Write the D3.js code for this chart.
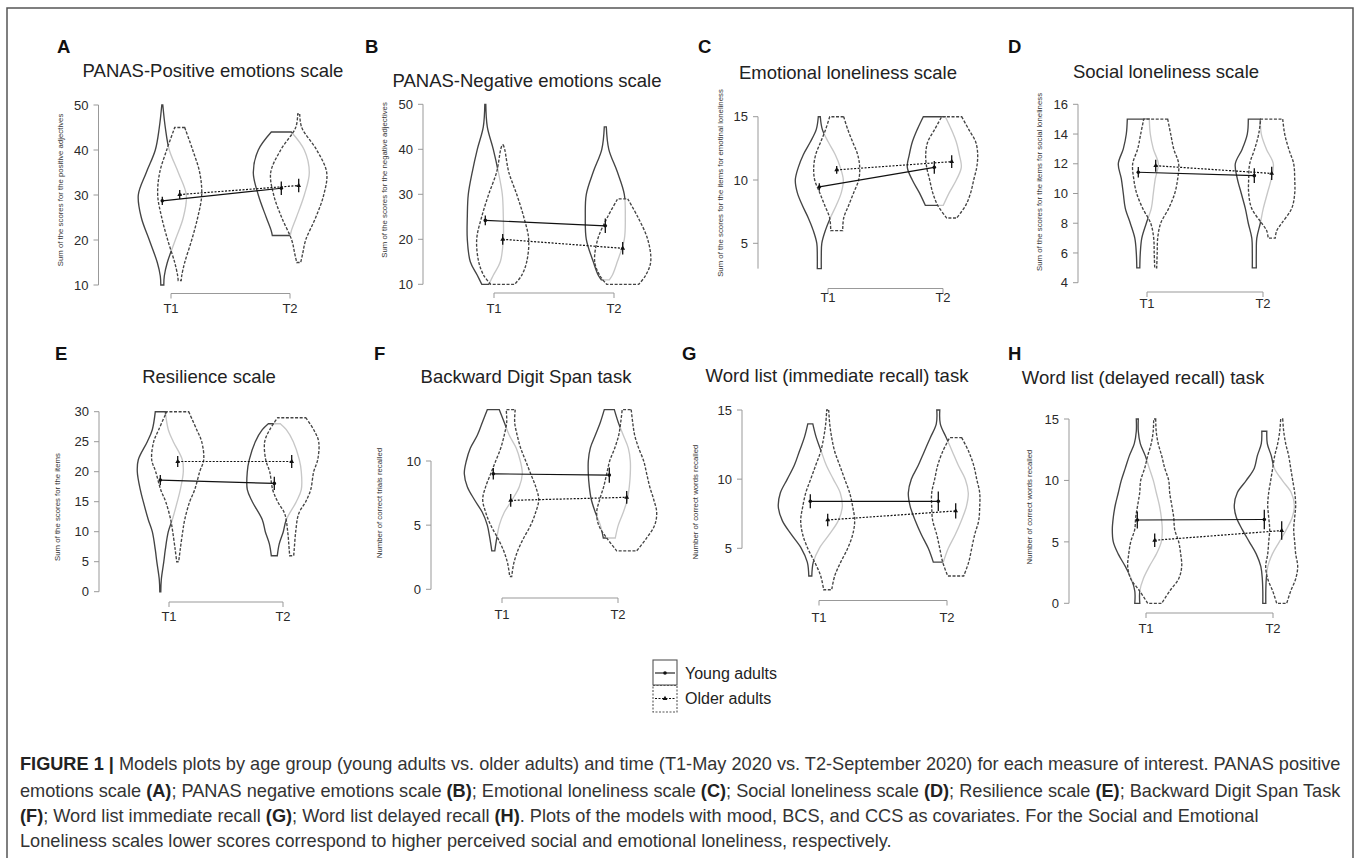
<!DOCTYPE html>
<meta charset="utf-8">
<title>Model plots by age group and time</title>
<style>

body {
  margin: 0;
  background: #fff;
}

svg {
  font-family: "Liberation Sans", Arial, sans-serif;
}

.frame {
  fill: none;
  stroke: #555;
  stroke-width: 1.5px;
}

.axis-line {
  stroke: #999;
  stroke-width: 1px;
  fill: none;
}

.tick-label {
  font-size: 13px;
  fill: #2a2a2a;
}

.y-label {
  font-size: 7.8px;
  fill: #333;
  text-anchor: middle;
}

.title {
  font-size: 18.5px;
  fill: #222;
  text-anchor: middle;
}

.letter {
  font-size: 18.5px;
  font-weight: bold;
  fill: #111;
}

.violin {
  fill: #fff;
  fill-opacity: 0.7;
  stroke: #444;
  stroke-width: 1.35px;
}

.violin.older {
  stroke-dasharray: 3, 1.6;
}

.mean-line {
  stroke: #111;
  stroke-width: 1.2px;
  fill: none;
}

.mean-line.older {
  stroke-dasharray: 2, 1.5;
}

.err {
  stroke: #111;
  stroke-width: 1.3px;
}

.caption {
  fill: #333;
}

</style>
<svg width="1358" height="858"></svg>
<script src="https://cdn.jsdelivr.net/npm/d3@7"></script>
<script>

var letters = ["A", "B", "C", "D", "E", "F", "G", "H"];

var titles = [
  "PANAS-Positive emotions scale",
  "PANAS-Negative emotions scale",
  "Emotional loneliness scale",
  "Social loneliness scale",
  "Resilience scale",
  "Backward Digit Span task",
  "Word list (immediate recall) task",
  "Word list (delayed recall) task"
];

var yLabels = [
  "Sum of the scores for the positive adjectives",
  "Sum of the scores for the negative adjectives",
  "Sum of the scores for the items for emotinal loneliness",
  "Sum of the scores for the items for social loneliness",
  "Sum of the scores for the items",
  "Number of correct trials recalled",
  "Number of correct words recalled",
  "Number of correct words recalled"
];

var yTicks = [
  [10, 20, 30, 40, 50],
  [10, 20, 30, 40, 50],
  [5, 10, 15],
  [4, 6, 8, 10, 12, 14, 16],
  [0, 5, 10, 15, 20, 25, 30],
  [0, 5, 10],
  [5, 10, 15],
  [0, 5, 10, 15]
];

// extent of the drawn y axis line
var axisSpan = [[10, 50], [10, 50], [3, 15], [4, 16], [0, 30], [0, 10], [5, 15], [0, 15]];

var times = ["T1", "T2"];
var groups = ["Young adults", "Older adults"];

// model means [T1, T2] and half-width of the error bars
var youngMeans = [[28.7, 31.5], [24.2, 23.0], [9.45, 11.0], [11.43, 11.2], [18.6, 18.05], [9.0, 8.9], [8.4, 8.4], [6.78, 6.82]];
var olderMeans = [[30.1, 32.1], [20.0, 18.0], [10.8, 11.45], [11.87, 11.35], [21.7, 21.7], [6.93, 7.17], [7.05, 7.7], [5.13, 5.92]];
var youngErr = [[0.9, 1.5], [1.1, 1.6], [0.3, 0.5], [0.35, 0.5], [0.85, 1.1], [0.45, 0.6], [0.5, 0.7], [0.7, 0.8]];
var olderErr = [[1.0, 1.5], [1.2, 1.4], [0.3, 0.5], [0.4, 0.45], [0.9, 1.1], [0.5, 0.5], [0.45, 0.55], [0.55, 0.75]];

// violin densities [score, relative density], order: young T1, older T1, young T2, older T2
var densA = [
  [[50, 0.5], [45, 3], [40, 7], [35, 16], [30, 24], [25, 21], [20, 13], [15, 5], [12, 2], [10, 1.5]],
  [[45, 5], [40, 13], [35, 20], [30, 22], [25, 18], [20, 12], [15, 5], [12, 2], [11, 1.5]],
  [[44, 10], [40, 23], [35, 28], [30, 23], [25, 15], [22, 10], [21, 9]],
  [[48, 1], [45, 3], [40, 18], [35, 28], [30, 25], [25, 17], [20, 7], [17, 4], [15, 2]]
];
var densB = [
  [[50, 0.5], [45, 2], [40, 8], [35, 13], [30, 17], [25, 18], [20, 18], [15, 15], [12, 8], [10, 3.5]],
  [[41, 0.5], [40, 2], [35, 6], [30, 14], [25, 21], [20, 26], [15, 24], [12, 19], [10, 12]],
  [[45, 1], [40, 3.5], [35, 12], [30, 19], [25, 20], [20, 19], [15, 12], [12, 7], [11, 4]],
  [[29, 5], [25, 15], [20, 25], [15, 28], [12, 23], [10, 16]]
];
var densC = [
  [[15, 1], [14, 3], [13, 9], [12, 16], [11, 21], [10, 24], [9, 22], [8, 17], [7, 11], [6, 6], [5, 2.5], [4, 2], [3, 2]],
  [[15, 7], [14, 11], [13, 16], [12, 21], [11, 23], [10, 22], [9, 17], [8, 12], [7, 7], [6, 6]],
  [[15, 11], [14, 17], [13, 22], [12, 25], [11, 27], [10, 22], [9, 15], [8, 9]],
  [[15, 10], [14, 17], [13, 24], [12, 26], [11, 25], [10, 22], [9, 19], [8, 14], [7, 5]]
];
var densD = [
  [[15, 11], [14, 12], [13, 15], [12, 20], [11, 17], [10, 15], [9, 13], [8, 8], [7, 3.5], [6, 2], [5, 1.5]],
  [[15, 12], [14, 15], [13, 18], [12, 23], [11, 22], [10, 19], [9, 13], [8, 5], [7, 2], [6, 1.5], [5, 1]],
  [[15, 6], [14, 7], [13, 12], [12, 19], [11, 17], [10, 13], [9, 9], [8, 6], [7, 2.5], [6, 2], [5, 2]],
  [[15, 11], [14, 13], [13, 17], [12, 22], [11, 23], [10, 23], [9, 20], [8, 10], [7.5, 5], [7, 3.5]]
];
var densE = [
  [[30, 5], [27, 8], [25, 13], [22, 22], [20, 23], [17, 20], [15, 17], [12, 12], [10, 8], [7, 5], [5, 3.5], [2, 1], [0, 0.5]],
  [[30, 11], [27, 19], [25, 24], [22, 26], [20, 22], [17, 17], [15, 12], [12, 7], [10, 5], [7, 2.5], [5, 1]],
  [[28, 6], [27, 12], [25, 19], [22, 25], [20, 27], [17, 27], [15, 22], [12, 12], [10, 9], [8, 5], [6, 3]],
  [[29, 14], [27, 22], [25, 27], [22, 26], [20, 22], [17, 19], [15, 14], [13, 7], [10, 4], [7, 2.5], [6, 2]]
];
var densF = [
  [[14, 6], [13, 11], [12, 16], [11, 23], [10, 27], [9, 29], [8, 26], [7, 19], [6, 11], [5, 6], [4, 3.5], [3, 1.5]],
  [[14, 4.5], [13, 4], [12, 6.5], [11, 10], [10, 15], [9, 20], [8, 25], [7, 28], [6, 25], [5, 20], [4, 13], [3, 7], [2, 3], [1, 1]],
  [[14, 5], [13, 9], [12, 14], [11, 19], [10, 21], [9, 21], [8, 20], [7, 18], [6, 14], [5, 9], [4, 6]],
  [[14, 4.5], [13, 6], [12, 8], [11, 12], [10, 17], [9, 20], [8, 23], [7, 27], [6, 30], [5, 28], [4, 20], [3, 10]]
];
var densG = [
  [[14, 2.5], [13, 6], [12, 11], [11, 16], [10, 23], [9, 30], [8, 32], [7, 28], [6, 19], [5, 9], [4, 3], [3, 1.5]],
  [[15, 1], [14, 2], [13, 4], [12, 7], [11, 12], [10, 17], [9, 22], [8, 25], [7, 27], [6, 25], [5, 20], [4, 13], [3, 7], [2, 4]],
  [[15, 1.5], [14, 2], [13, 8], [12, 14], [11, 20], [10, 27], [9, 30], [8, 28], [7, 23], [6, 17], [5, 10], [4, 5]],
  [[13, 6], [12, 13], [11, 18], [10, 21], [9, 24], [8, 24], [7, 23], [6, 19], [5, 16], [4, 13], [3, 8]]
];
var densH = [
  [[15, 1], [14, 1], [13, 3], [12, 8], [11, 12], [10, 16], [9, 19], [8, 22], [7, 24], [6, 25], [5, 24], [4, 19], [3, 12], [2, 6], [1, 2.5], [0, 2.5]],
  [[15, 1], [14, 1.5], [13, 3.5], [12, 7], [11, 10], [10, 14], [9, 15], [8, 17], [7, 19], [6, 20], [5, 24], [4, 26], [3, 27], [2, 24], [1, 15], [0, 7]],
  [[14, 2.5], [13, 3], [12, 7], [11, 10], [10, 18], [9, 27], [8, 30], [7, 28], [6, 22], [5, 15], [4, 8], [3, 3.5], [2, 2], [1, 1.5], [0, 1.5]],
  [[15, 1], [14, 2], [13, 4], [12, 7], [11, 9], [10, 11], [9, 13], [8, 14], [7, 13], [6, 12], [5, 13], [4, 14], [3, 16], [2, 14], [1, 9], [0, 5]]
];
var densities = [densA, densB, densC, densD, densE, densF, densG, densH];

var captionLines = [
  "**FIGURE 1 |** Models plots by age group (young adults vs. older adults) and time (T1-May 2020 vs. T2-September 2020) for each measure of interest. PANAS positive",
  "emotions scale **(A)**; PANAS negative emotions scale **(B)**; Emotional loneliness scale **(C)**; Social loneliness scale **(D)**; Resilience scale **(E)**; Backward Digit Span Task",
  "**(F)**; Word list immediate recall **(G)**; Word list delayed recall **(H)**. Plots of the models with mood, BCS, and CCS as covariates. For the Social and Emotional",
  "Loneliness scales lower scores correspond to higher perceived social and emotional loneliness, respectively."
];

// panel placement on the page
var layout = [
  {ax: 98.5, yr: [285, 105], t: [171, 290], br: 293.5, tl: 308, title: [213, 77], letter: [57, 53], yl: [63, 190]},
  {ax: 423, yr: [284.3, 104.3], t: [494, 614], br: 293, tl: 308, title: [527, 87], letter: [365, 53], yl: [387, 180]},
  {ax: 758, yr: [243.3, 116.7], t: [828, 943], br: 288.5, tl: 297, title: [848, 79], letter: [698, 53], yl: [723, 183]},
  {ax: 1078, yr: [282.7, 104.3], t: [1147, 1263], br: 292, tl: 303, title: [1166, 78], letter: [1008, 53], yl: [1042, 182]},
  {ax: 99, yr: [591.7, 411.7], t: [169, 283], br: 602, tl: 616, title: [209, 383], letter: [55, 360], yl: [60, 507]},
  {ax: 431, yr: [589.3, 461], t: [502, 618], br: 598, tl: 614, title: [526, 383], letter: [374, 360], yl: [382, 503]},
  {ax: 742, yr: [548.3, 410], t: [819, 947], br: 600.5, tl: 617, title: [837, 382], letter: [682, 360], yl: [698, 502]},
  {ax: 1069, yr: [603.3, 419], t: [1146, 1273], br: 613, tl: 628, title: [1143, 384], letter: [1008, 360], yl: [1032, 507]}
];

var svg = d3.select("svg");

svg.append("rect")
    .attr("class", "frame")
    .attr("x", 7)
    .attr("y", 8)
    .attr("width", 1346)
    .attr("height", 880);

var w = d3.scaleLinear().domain([0, 30]).range([0, 30]),
    dodge = 8.7;

letters.forEach(function(letter, i) {
  var L = layout[i],
      ticks = yTicks[i];

  var y = d3.scaleLinear()
      .domain([ticks[0], ticks[ticks.length - 1]])
      .range(L.yr);

  var x = d3.scalePoint().domain(times).range(L.t);

  var g = svg.append("g");

  g.append("text")
      .attr("class", "letter")
      .attr("x", L.letter[0])
      .attr("y", L.letter[1])
      .text(letter);

  g.append("text")
      .attr("class", "title")
      .attr("x", L.title[0])
      .attr("y", L.title[1])
      .text(titles[i]);

  // y axis, R style
  g.append("line")
      .attr("class", "axis-line")
      .attr("x1", L.ax).attr("x2", L.ax)
      .attr("y1", y(axisSpan[i][0])).attr("y2", y(axisSpan[i][1]));

  var tick = g.selectAll(".ytick")
      .data(ticks)
    .enter().append("g")
      .attr("transform", function(d) { return "translate(" + L.ax + "," + y(d) + ")"; });

  tick.append("line")
      .attr("class", "axis-line")
      .attr("x2", -5);

  tick.append("text")
      .attr("class", "tick-label")
      .attr("x", -10)
      .attr("dy", ".36em")
      .attr("text-anchor", "end")
      .text(function(d) { return d; });

  g.append("text")
      .attr("class", "y-label")
      .attr("transform", "translate(" + L.yl[0] + "," + L.yl[1] + ") rotate(-90)")
      .text(yLabels[i]);

  // x axis bracket
  g.append("path")
      .attr("class", "axis-line")
      .attr("d", "M" + x("T1") + "," + (L.br + 5) + "V" + L.br + "H" + x("T2") + "V" + (L.br + 5));

  g.selectAll(".xlab")
      .data(times)
    .enter().append("text")
      .attr("class", "tick-label")
      .attr("x", function(d) { return x(d); })
      .attr("y", L.tl)
      .attr("dy", ".36em")
      .attr("text-anchor", "middle")
      .text(function(d) { return d; });

  // violins: young first, older drawn over it with translucent fill
  var dens = densities[i];
  var violins = [
    {group: 0, time: "T1", d: dens[0]},
    {group: 1, time: "T1", d: dens[1]},
    {group: 0, time: "T2", d: dens[2]},
    {group: 1, time: "T2", d: dens[3]}
  ];

  violins.forEach(function(v) {
    var cx = x(v.time) + (v.group === 0 ? -dodge : dodge);
    var area = d3.area()
        .curve(d3.curveCatmullRom)
        .y(function(d) { return y(d[0]); })
        .x0(function(d) { return cx - w(d[1]); })
        .x1(function(d) { return cx + w(d[1]); });
    g.append("path")
        .attr("class", "violin" + (v.group === 1 ? " older" : ""))
        .attr("d", area(v.d));
  });

  // model means with error bars
  [youngMeans[i], olderMeans[i]].forEach(function(m, gi) {
    var err = gi === 0 ? youngErr[i] : olderErr[i],
        off = gi === 0 ? -dodge : dodge;

    var pts = times.map(function(t, ti) { return [x(t) + off, y(m[ti]), err[ti], m[ti]]; });

    g.append("path")
        .attr("class", "mean-line" + (gi === 1 ? " older" : ""))
        .attr("d", d3.line()(pts.map(function(p) { return [p[0], p[1]]; })));

    pts.forEach(function(p) {
      g.append("line")
          .attr("class", "err")
          .attr("x1", p[0]).attr("x2", p[0])
          .attr("y1", y(p[3] - p[2])).attr("y2", y(p[3] + p[2]));
      if (gi === 0) {
        g.append("circle")
            .attr("cx", p[0]).attr("cy", p[1]).attr("r", 1.8)
            .attr("fill", "#111");
      } else {
        g.append("path")
            .attr("transform", "translate(" + p[0] + "," + p[1] + ")")
            .attr("d", d3.symbol(d3.symbolTriangle, 10)())
            .attr("fill", "#111");
      }
    });
  });
});

// legend
var legend = svg.append("g").attr("transform", "translate(653,660)");

groups.forEach(function(name, i) {
  var row = legend.append("g").attr("transform", "translate(0," + (i * 25.5) + ")");
  row.append("rect")
      .attr("width", 24)
      .attr("height", i === 0 ? 25 : 26.5)
      .attr("fill", "none")
      .attr("stroke", "#555")
      .attr("stroke-width", 1.1)
      .attr("stroke-dasharray", i === 0 ? null : "2,1.5");
  row.append("line")
      .attr("x1", 2).attr("x2", 22)
      .attr("y1", 13).attr("y2", 13)
      .attr("stroke", "#111")
      .attr("stroke-width", 1.1)
      .attr("stroke-dasharray", i === 0 ? null : "2,1.5");
  if (i === 0) {
    row.append("circle").attr("cx", 12).attr("cy", 13).attr("r", 1.8).attr("fill", "#111");
  } else {
    row.append("path")
        .attr("transform", "translate(12,13)")
        .attr("d", d3.symbol(d3.symbolTriangle, 10)())
        .attr("fill", "#111");
  }
  row.append("text")
      .attr("x", 32)
      .attr("y", 13)
      .attr("dy", ".36em")
      .attr("font-size", "16px")
      .attr("fill", "#222")
      .text(name);
});

// caption
var captionY = [770, 796.5, 821.5, 847];

var caption = svg.append("g").attr("class", "caption");

captionLines.forEach(function(line, i) {
  var text = caption.append("text")
      .attr("x", 20)
      .attr("y", captionY[i])
      .attr("font-size", "15.5px");
  line.split("**").forEach(function(part, j) {
    if (!part) return;
    text.append("tspan")
        .attr("font-weight", j % 2 ? "bold" : null)
        .attr("fill", j % 2 ? "#222" : null)
        .text(part);
  });
});

// fit the first caption line to the frame width
var first = caption.select("text").node(),
    len = first.getComputedTextLength(),
    size = 15.5 * 1321 / len;
caption.selectAll("text").attr("font-size", size + "px");

</script>
